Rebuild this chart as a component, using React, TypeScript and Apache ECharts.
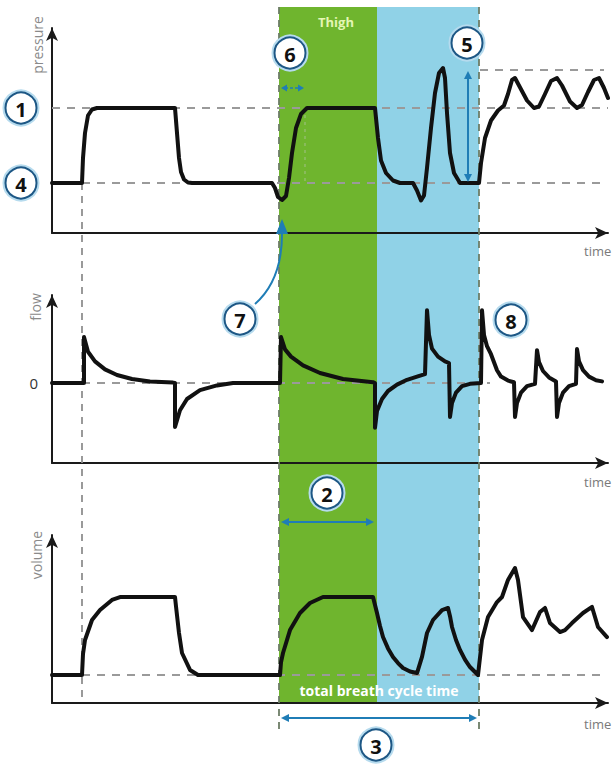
import React, { useEffect, useRef } from "react";
import * as echarts from "echarts";

// ---------- data (time in s, arbitrary units) ----------
const TIME_MAX = 5.56;

const pressureSeries: number[][] = [
  [0, 10], [0.3, 10], [0.31, 15], [0.33, 20], [0.36, 23.5], [0.4, 24.7], [0.45, 25],
  [1.23, 25], [1.25, 20], [1.27, 15], [1.29, 12.2], [1.32, 10.7], [1.36, 10.1], [1.4, 10],
  [2.2, 10], [2.23, 9], [2.26, 7.2], [2.3, 6.6], [2.34, 7.4], [2.37, 11], [2.4, 16],
  [2.44, 21], [2.49, 23.8], [2.55, 25], [3.23, 25], [3.26, 19], [3.29, 14.5], [3.34, 12],
  [3.41, 10.5], [3.48, 10], [3.61, 10], [3.65, 8.5], [3.69, 6.5], [3.72, 7.5], [3.75, 13],
  [3.79, 21], [3.83, 28], [3.87, 32], [3.91, 33], [3.93, 31], [3.95, 24], [3.98, 16],
  [4.02, 12], [4.08, 10], [4.27, 10], [4.29, 14], [4.33, 19], [4.39, 22.5], [4.46, 24.5],
  [4.52, 25.5], [4.56, 27.8], [4.6, 30.6], [4.63, 31], [4.67, 29.5], [4.75, 26.5],
  [4.82, 25], [4.87, 25.3], [4.93, 27.8], [4.99, 30.4], [5.05, 31], [5.1, 29.5],
  [5.18, 26.3], [5.25, 25], [5.3, 25.6], [5.36, 28.2], [5.42, 30.6], [5.47, 31],
  [5.52, 29], [5.56, 27],
];

const flowSeries: number[][] = [
  [0, 0], [0.32, 0], [0.32, 5.75], [0.36, 3.9], [0.43, 2.7], [0.53, 1.7], [0.65, 1.0],
  [0.8, 0.5], [0.98, 0.2], [1.21, 0.05], [1.23, 0], [1.23, -5.5], [1.28, -3.4],
  [1.35, -2.0], [1.48, -0.9], [1.65, -0.3], [1.81, 0], [2.28, 0], [2.29, 5.75],
  [2.33, 4.2], [2.39, 3.3], [2.51, 2.2], [2.68, 1.25], [2.91, 0.5], [3.21, 0.1],
  [3.23, 0], [3.23, -5.6], [3.25, -3.5], [3.3, -2.0], [3.36, -1.0], [3.45, -0.2],
  [3.55, 0.4], [3.65, 0.8], [3.73, 1.1], [3.75, 9.1], [3.77, 6.0], [3.8, 4.3],
  [3.86, 3.3], [3.93, 2.7], [3.97, 2.5], [3.98, -4.25], [4.0, -2.5], [4.04, -1.2],
  [4.1, -0.4], [4.18, -0.1], [4.29, 0], [4.3, 9.1], [4.32, 6.0], [4.35, 4.6],
  [4.39, 3.6], [4.42, 2.6], [4.45, 1.6], [4.49, 0.8], [4.56, 0.3], [4.62, 0.1],
  [4.63, -4.25], [4.65, -2.5], [4.69, -1.2], [4.75, -0.4], [4.83, -0.1], [4.85, 4.1],
  [4.87, 2.6], [4.91, 1.5], [4.97, 0.7], [5.04, 0.2], [5.05, -4.25], [5.07, -2.5],
  [5.11, -1.2], [5.17, -0.4], [5.24, -0.1], [5.25, 4.25], [5.27, 2.7], [5.31, 1.6],
  [5.37, 0.8], [5.44, 0.35], [5.5, 0.2],
];

const volumeSeries: number[][] = [
  [0, 2], [0.3, 2], [0.31, 3.5], [0.33, 4.5], [0.4, 5.93], [0.48, 6.64], [0.6, 7.36],
  [0.68, 7.57], [1.23, 7.57], [1.24, 6.9], [1.27, 5.0], [1.3, 3.57], [1.38, 2.36],
  [1.46, 2], [2.28, 2], [2.29, 2.9], [2.31, 3.57], [2.38, 5.21], [2.48, 6.43],
  [2.58, 7.14], [2.71, 7.57], [3.21, 7.57], [3.23, 7.0], [3.25, 6.43], [3.28, 5.5],
  [3.31, 4.71], [3.36, 3.9], [3.41, 3.29], [3.46, 2.85], [3.51, 2.5], [3.58, 2.25],
  [3.65, 2.14], [3.7, 3.29], [3.75, 5.0], [3.81, 5.93], [3.9, 6.64], [3.96, 6.79],
  [3.98, 6.2], [4.0, 5.43], [4.04, 4.5], [4.08, 3.79], [4.13, 3.1], [4.18, 2.57],
  [4.26, 2], [4.3, 4.5], [4.36, 6.14], [4.45, 7.21], [4.5, 7.57], [4.56, 8.79],
  [4.63, 9.64], [4.66, 8.79], [4.71, 6.14], [4.8, 5.21], [4.88, 6.5], [4.93, 6.79],
  [4.98, 5.71], [5.08, 5.07], [5.13, 5.21], [5.2, 5.71], [5.31, 6.43], [5.4, 6.86],
  [5.46, 5.43], [5.55, 4.71],
];

const pressureHighRef: number[][] = [[0, 25], [5.56, 25]];
const pressureLowRef: number[][] = [[0.3, 10], [5.5, 10]];
const pressurePeakRef: number[][] = [[4.28, 32.6], [5.52, 32.6]];
const flowZeroRef: number[][] = [[0, 0], [4.38, 0]];
const volumeBaseRef: number[][] = [[0, 2], [5.5, 2]];

const T_BREATH1 = 0.3;
const T_INSP_START = 2.27;
const T_INSP_END = 3.25;
const T_CYCLE_END = 4.27;
const T_TRIGGER_END = 2.53;
const P_HIGH = 25;
const P_LOW = 10;
const P_PEAK = 32.6;

const axisNames = ["pressure", "flow", "volume"];
const timeLabel = "time";
const bandLabelHigh = "Thigh";
const bandLabelCycle = "total breath cycle time";

// ---------- styling ----------
const GREEN = "#6fb52e";
const BLUE = "#90d2e7";
const ARROW = "#1f7db6";
const FONT = '"Open Sans", "DejaVu Sans", sans-serif';

const GRIDS = [
  { left: 52, width: 556, top: 28, height: 205 },
  { left: 52, width: 556, top: 295, height: 168 },
  { left: 52, width: 556, top: 535, height: 168 },
];
const Y_RANGES = [
  { min: 0, max: 41 },
  { min: -10, max: 11, interval: 10 },
  { min: 0, max: 12 },
];

function axisLineStyle() {
  return {
    show: true,
    onZero: false,
    symbol: ["none", "arrow"],
    symbolSize: [9, 13],
    lineStyle: { color: "#1a1a1a", width: 2 },
  };
}

function curve(gi: number, data: number[][]) {
  return {
    type: "line",
    xAxisIndex: gi,
    yAxisIndex: gi,
    data,
    symbol: "none",
    showSymbol: false,
    silent: true,
    z: 5,
    lineStyle: { color: "#111", width: 4, join: "round", cap: "round" },
  };
}

function dashed(gi: number, data: number[][]) {
  return {
    type: "line",
    xAxisIndex: gi,
    yAxisIndex: gi,
    data,
    symbol: "none",
    showSymbol: false,
    silent: true,
    z: 3,
    lineStyle: { color: "#9a9a9a", width: 2, type: [8, 7] },
  };
}

function head(x: number, y: number, dx: number, dy: number, len = 8, w = 4, color = ARROW) {
  const px = -dy;
  const py = dx;
  return {
    type: "polygon",
    z: 20,
    shape: {
      points: [
        [x, y],
        [x - dx * len + px * w, y - dy * len + py * w],
        [x - dx * len - px * w, y - dy * len - py * w],
      ],
    },
    style: { fill: color },
  };
}

function doubleArrow(x1: number, y1: number, x2: number, y2: number, width = 2, dash?: number[], len = 8, w = 4) {
  const L = Math.hypot(x2 - x1, y2 - y1);
  const dx = (x2 - x1) / L;
  const dy = (y2 - y1) / L;
  return [
    {
      type: "line",
      z: 20,
      shape: { x1: x1 + dx * (len - 2), y1: y1 + dy * (len - 2), x2: x2 - dx * (len - 2), y2: y2 - dy * (len - 2) },
      style: { stroke: ARROW, lineWidth: width, lineDash: dash },
    },
    head(x2, y2, dx, dy, len, w),
    head(x1, y1, -dx, -dy, len, w),
  ];
}

function marker(cx: number, cy: number, label: string) {
  return [
    { type: "circle", z: 30, shape: { cx, cy, r: 16.5 }, style: { fill: "#fff", stroke: "#b6dbee", lineWidth: 4 } },
    { type: "circle", z: 31, shape: { cx, cy, r: 15.5 }, style: { fill: "#fff", stroke: "#1d5785", lineWidth: 2 } },
    {
      type: "text",
      z: 32,
      x: cx,
      y: cy + 1,
      style: { text: label, fill: "#111", font: `bold 20px ${FONT}`, align: "center", verticalAlign: "middle" },
    },
  ];
}

function vline(x: number, y1: number, y2: number, color = "#8a8a8a", width = 1.8, dash = [7, 6], z = 1) {
  return { type: "line", z, shape: { x1: x, y1, x2: x, y2 }, style: { stroke: color, lineWidth: width, lineDash: dash } };
}

function label(x: number, y: number, text: string, font: string, fill: string, rotation = 0, align = "center") {
  return {
    type: "text",
    z: 25,
    x,
    y,
    rotation,
    style: { text, font, fill, align, verticalAlign: "middle" },
  };
}

export default function App() {
  const ref = useRef<HTMLDivElement>(null);

  useEffect(() => {
    if (!ref.current) return;
    const chart = echarts.init(ref.current, undefined, { renderer: "svg" });

    const xAxis = GRIDS.map((_, i) => ({
      gridIndex: i,
      type: "value",
      min: 0,
      max: TIME_MAX,
      axisLine: axisLineStyle(),
      axisTick: { show: false },
      axisLabel: { show: false },
      splitLine: { show: false },
    }));
    const yAxis = GRIDS.map((_, i) => ({
      gridIndex: i,
      type: "value",
      ...Y_RANGES[i],
      axisLine: axisLineStyle(),
      axisTick: { show: false },
      axisLabel:
        i === 1
          ? { show: true, formatter: (v: number) => (v === 0 ? "0" : ""), color: "#333", fontSize: 15, margin: 14, fontFamily: FONT }
          : { show: false },
      splitLine: { show: false },
    }));

    chart.setOption({
      animation: false,
      backgroundColor: "#ffffff",
      grid: GRIDS,
      xAxis,
      yAxis,
      series: [
        dashed(0, pressureHighRef),
        dashed(0, pressureLowRef),
        dashed(0, pressurePeakRef),
        dashed(1, flowZeroRef),
        dashed(2, volumeBaseRef),
        curve(0, pressureSeries),
        curve(1, flowSeries),
        curve(2, volumeSeries),
      ],
    });

    const P = (gi: number, t: number, v: number) =>
      chart.convertToPixel({ gridIndex: gi } as any, [t, v]) as number[];

    const xIS = P(0, T_INSP_START, 0)[0];
    const xIE = P(0, T_INSP_END, 0)[0];
    const xCE = P(0, T_CYCLE_END, 0)[0];
    const xB1 = P(0, T_BREATH1, 0)[0];
    const xTR = P(0, T_TRIGGER_END, 0)[0];
    const yHigh = P(0, 0, P_HIGH)[1];
    const yLow = P(0, 0, P_LOW)[1];
    const yPeak = P(0, 0, P_PEAK)[1];
    const yBottom = P(2, 0, 0)[1];
    const yPressAxis = P(0, 0, 0)[1];
    const yFlowAxis = P(1, 0, -10)[1];
    const bandTop = 7;
    const xRight = P(0, TIME_MAX, 0)[0];

    const graphic: any[] = [
      { type: "rect", z: -2, shape: { x: xIS, y: bandTop, width: xIE - xIS, height: yBottom - bandTop }, style: { fill: GREEN } },
      { type: "rect", z: -2, shape: { x: xIE, y: bandTop, width: xCE - xIE, height: yBottom - bandTop }, style: { fill: BLUE } },
      vline(xIS, bandTop, yBottom + 27, "#6d7d66"),
      vline(xCE, bandTop, yBottom + 27, "#6d7d66"),
      vline(xB1, yLow, yBottom, "#8f8f8f"),
      vline(xTR, yHigh, yLow, "#9bbf7a", 1.2, [3, 4]),
      label((xIS + xIE) / 2 + 8, 22, bandLabelHigh, `bold 13px ${FONT}`, "#e4f6b4"),
      label((xIS + xCE) / 2, 690, bandLabelCycle, `bold 14px ${FONT}`, "#ffffff"),
      label(37, 45, axisNames[0], `14px ${FONT}`, "#8a8a8a", Math.PI / 2),
      label(35, 307, axisNames[1], `14px ${FONT}`, "#8a8a8a", Math.PI / 2),
      label(36, 555, axisNames[2], `14px ${FONT}`, "#8a8a8a", Math.PI / 2),
      label(xRight - 24, yPressAxis + 18, timeLabel, `13px ${FONT}`, "#7a7a7a", 0, "left"),
      label(xRight - 24, yFlowAxis + 19, timeLabel, `13px ${FONT}`, "#7a7a7a", 0, "left"),
      label(xRight - 24, yBottom + 21, timeLabel, `13px ${FONT}`, "#7a7a7a", 0, "left"),
      ...doubleArrow(xIS + 2, 88, xTR - 1, 88, 1.5, [3, 2], 6, 3.5),
      ...doubleArrow(468, yPeak + 1, 468, yLow - 1, 2),
      ...doubleArrow(xIS + 2, 522, xIE - 3, 522, 2),
      ...doubleArrow(xIS + 2, 718, xCE - 2, 718, 2),
      {
        type: "bezierCurve",
        z: 20,
        shape: { x1: 255, y1: 304, cpx1: 272, cpy1: 289, cpx2: 282, cpy2: 266, x2: 282, y2: 234 },
        style: { stroke: ARROW, lineWidth: 2, fill: "none" },
      },
      head(282, 219, 0, -1, 15, 6),
      ...marker(21, yHigh, "1"),
      ...marker(21, yLow, "4"),
      ...marker(290, 53, "6"),
      ...marker(467, 43, "5"),
      ...marker(240, 319, "7"),
      ...marker(511, 320, "8"),
      ...marker(327, 493, "2"),
      ...marker(376, 745, "3"),
    ];

    chart.setOption({ graphic });

    return () => chart.dispose();
  }, []);

  return (
    <div
      ref={ref}
      style={{ position: "absolute", left: 0, top: 0, width: 613, height: 768, background: "#fff" }}
    />
  );
}
